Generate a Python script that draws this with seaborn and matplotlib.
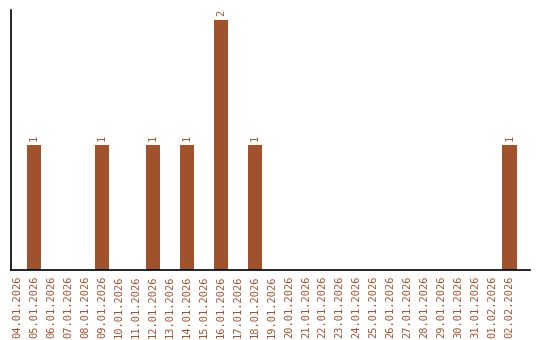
import matplotlib
matplotlib.use("Agg")
import matplotlib.pyplot as plt
import seaborn as sns
import pandas as pd

dates = ["04.01.2026", "05.01.2026", "06.01.2026", "07.01.2026", "08.01.2026",
         "09.01.2026", "10.01.2026", "11.01.2026", "12.01.2026", "13.01.2026",
         "14.01.2026", "15.01.2026", "16.01.2026", "17.01.2026", "18.01.2026",
         "19.01.2026", "20.01.2026", "21.01.2026", "22.01.2026", "23.01.2026",
         "24.01.2026", "25.01.2026", "26.01.2026", "27.01.2026", "28.01.2026",
         "29.01.2026", "30.01.2026", "31.01.2026", "01.02.2026", "02.02.2026"]
counts = [0, 1, 0, 0, 0, 1, 0, 0, 1, 0, 1, 0, 2, 0, 1,
          0, 0, 0, 0, 0, 0, 0, 0, 0, 0, 0, 0, 0, 0, 1]

df = pd.DataFrame({"date": dates, "count": counts})

sns.set_theme(style="white")
plt.rcParams['font.family'] = ['DejaVu Sans Mono', 'DejaVu Sans']

color = "#A0522D"
fig = plt.figure(figsize=(5.4, 3.4), dpi=100)
ax = fig.add_axes([11/540, 1 - 270/340, (530 - 11)/540, (270 - 10)/340])
sns.barplot(data=df, x="date", y="count", color=color, width=0.85,
            saturation=1, ax=ax, linewidth=0)

for i, v in enumerate(counts):
    if v > 0:
        ax.text(i, v + 0.03, str(v), rotation=90, ha="center", va="bottom",
                fontsize=7.5, color=color)

ax.set_xlim(-0.35, 30.2)
ax.set_ylim(0, 2.08)
ax.set_yticks([])
ax.set_xlabel("")
ax.set_ylabel("")
ax.tick_params(axis="x", labelrotation=90, labelsize=7.5, colors=color,
               length=0, pad=4)
for lbl in ax.get_xticklabels():
    lbl.set_color(color)
for s in ["top", "right"]:
    ax.spines[s].set_visible(False)
for s in ["left", "bottom"]:
    ax.spines[s].set_color("black")
    ax.spines[s].set_linewidth(1.2)

fig.savefig("out.png", dpi=100)
